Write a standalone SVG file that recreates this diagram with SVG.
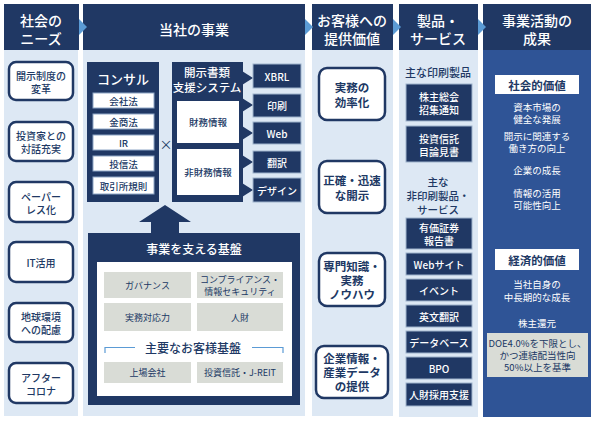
<svg xmlns="http://www.w3.org/2000/svg" width="594" height="424" viewBox="0 0 594 424">
<style>
text{font-family:"Noto Sans CJK JP","Noto Sans",sans-serif;text-anchor:middle;dominant-baseline:central}
.hd{fill:#203864}
.hdt{fill:#fff;font-size:14px;font-weight:500}
.body{fill:#dde8f4}
.need{fill:#fff;stroke:#203864;stroke-width:2.5}
.needt{fill:#203864;font-size:10px;font-weight:500}
.val{fill:#fff;stroke:#203864;stroke-width:2.5}
.valt{fill:#203864;font-size:11.5px;font-weight:700}
.nv{fill:#203864}
.wt{fill:#fff}
.sub{fill:#fff;stroke:#8ea6c6;stroke-width:1}
.subt{fill:#203864;font-size:9.5px;font-weight:500}
.out{fill:#203864;stroke:#9fb3cc;stroke-width:1}
.outt{fill:#fff;font-size:10px;font-weight:500}
.gray{fill:#d9dcd6}
.grayt{fill:#203864;font-size:9px}
.tri{fill:#5b9bd5}
.r5t{fill:#fff;font-size:9.5px}
.dk{fill:#203864}
</style>

<!-- column backgrounds -->
<g id="col-needs">
<rect class="body" x="4" y="50" width="74" height="366"/>
<rect class="hd" x="4" y="4" width="75" height="46"/>
<text class="hdt" x="41" y="20">社会の<tspan x="41" dy="18">ニーズ</tspan></text>
</g>
<g id="col-business">
<rect class="body" x="83" y="50" width="222" height="366"/>
<rect class="hd" x="83" y="4" width="222" height="46"/>
<text class="hdt" x="194" y="29">当社の事業</text>
</g>
<g id="col-value">
<rect class="body" x="312" y="50" width="81" height="366"/>
<rect class="hd" x="312" y="4" width="81" height="46"/>
<text class="hdt" x="352" y="20">お客様への<tspan x="352" dy="18">提供価値</tspan></text>
</g>
<g id="col-products">
<rect class="body" x="399" y="50" width="79" height="367"/>
<rect class="hd" x="399" y="4" width="79" height="46"/>
<text class="hdt" x="438" y="20">製品・<tspan x="438" dy="18">サービス</tspan></text>
</g>
<g id="col-results">
<rect fill="#2f5496" x="483" y="50" width="108" height="367"/>
<rect class="hd" x="483" y="4" width="108" height="46"/>
<text class="hdt" x="537" y="20">事業活動の<tspan x="537" dy="18">成果</tspan></text>
</g>

<!-- connectors -->
<g id="connectors">
<polygon class="tri" points="79,19 87,27 79,35"/>
<polygon class="tri" points="305,19 313,27 305,35"/>
<polygon class="tri" points="393,19 401,27 393,35"/>
<polygon class="tri" points="478,19 486,27 478,35"/>
<polygon class="nv" points="165,205 191,222 179,222 179,234 151,234 151,222 139,222"/>
</g>

<!-- needs -->
<g id="need1"><rect class="need" x="9" y="62" width="64" height="38" rx="7"/><text class="needt" x="41" y="75">開示制度の<tspan x="41" dy="13">変革</tspan></text></g>
<g id="need2"><rect class="need" x="9" y="122" width="64" height="39" rx="7"/><text class="needt" x="41" y="135">投資家との<tspan x="41" dy="13">対話充実</tspan></text></g>
<g id="need3"><rect class="need" x="9" y="182" width="64" height="40" rx="7"/><text class="needt" x="41" y="196">ペーパー<tspan x="41" dy="13">レス化</tspan></text></g>
<g id="need4"><rect class="need" x="9" y="242" width="64" height="40" rx="7"/><text class="needt" x="41" y="262">IT活用</text></g>
<g id="need5"><rect class="need" x="9" y="303" width="64" height="39" rx="7"/><text class="needt" x="41" y="316">地球環境<tspan x="41" dy="13">への配慮</tspan></text></g>
<g id="need6"><rect class="need" x="9" y="363" width="64" height="40" rx="7"/><text class="needt" x="41" y="377">アフター<tspan x="41" dy="13">コロナ</tspan></text></g>

<!-- consulting -->
<g id="consul">
<rect class="nv" x="87" y="62" width="72" height="140"/>
<text class="wt" x="123" y="78" font-size="13" font-weight="500">コンサル</text>
<rect class="sub" x="93" y="93" width="61" height="15"/><text class="subt" x="123.5" y="100.5">会社法</text>
<rect class="sub" x="93" y="114" width="61" height="15"/><text class="subt" x="123.5" y="121.5">金商法</text>
<rect class="sub" x="93" y="135" width="61" height="15"/><text class="subt" x="123.5" y="142.5">IR</text>
<rect class="sub" x="93" y="156" width="61" height="15"/><text class="subt" x="123.5" y="163.5">投信法</text>
<rect class="sub" x="93" y="177" width="61" height="17"/><text class="subt" x="123.5" y="185.5">取引所規則</text>
</g>
<g id="times"><text x="166" y="143" font-size="13" fill="#203864">×</text></g>

<!-- disclosure system -->
<g id="system">
<rect class="nv" x="172" y="62" width="71" height="140"/>
<polygon class="nv" points="242,71 253,78 242,85"/>
<polygon class="nv" points="242,98 253,105 242,112"/>
<polygon class="nv" points="242,126 253,133 242,140"/>
<polygon class="nv" points="242,155 253,162 242,169"/>
<polygon class="nv" points="242,183 253,190 242,197"/>
<text class="wt" x="207" y="72" font-size="11.5" font-weight="500">開示書類<tspan x="207" dy="15">支援システム</tspan></text>
<rect fill="#fff" x="177" y="101" width="62" height="42"/>
<text class="subt" x="208" y="122">財務情報</text>
<rect fill="#fff" x="177" y="149" width="62" height="46"/>
<text class="subt" x="208" y="172">非財務情報</text>
</g>
<g id="outputs">
<rect class="out" x="253" y="64" width="48" height="24"/><text class="outt" x="277" y="76" font-weight="700">XBRL</text>
<rect class="out" x="253" y="94" width="48" height="23"/><text class="outt" x="277" y="105.5">印刷</text>
<rect class="out" x="253" y="122" width="48" height="22"/><text class="outt" x="277" y="133" font-weight="700">Web</text>
<rect class="out" x="253" y="151" width="48" height="22"/><text class="outt" x="277" y="162">翻訳</text>
<rect class="out" x="253" y="178" width="48" height="24"/><text class="outt" x="277" y="190">デザイン</text>
</g>

<!-- foundation -->
<g id="foundation">
<rect class="nv" x="88" y="233" width="212" height="172"/>
<text class="wt" x="194" y="248" font-size="12" font-weight="500">事業を支える基盤</text>
<rect fill="#fff" x="97" y="262" width="195" height="134"/>
<rect class="gray" x="104" y="272" width="87" height="26"/><text class="grayt" x="147.5" y="285">ガバナンス</text>
<rect class="gray" x="197" y="272" width="86" height="26"/><text class="grayt" x="240" y="279">コンプライアンス・<tspan x="240" dy="12">情報セキュリティ</tspan></text>
<rect class="gray" x="104" y="303" width="87" height="28"/><text class="grayt" x="147.5" y="317">実務対応力</text>
<rect class="gray" x="197" y="303" width="86" height="28"/><text class="grayt" x="240" y="317">人財</text>
<path d="M105,353 V347.5 H135 M252,347.5 H283 V353" fill="none" stroke="#5b9bd5" stroke-width="1.2"/>
<text x="193" y="347" font-size="12" fill="#203864" font-weight="500">主要なお客様基盤</text>
<rect class="gray" x="104" y="362" width="87" height="21"/><text class="grayt" x="147.5" y="372.5">上場会社</text>
<rect class="gray" x="197" y="362" width="86" height="21"/><text class="grayt" x="240" y="372.5">投資信託・J-REIT</text>
</g>

<!-- values -->
<g id="val1"><rect class="val" x="319" y="68" width="66" height="52" rx="8"/><text class="valt" x="352" y="86.5">実務の<tspan x="352" dy="15">効率化</tspan></text></g>
<g id="val2"><rect class="val" x="319" y="161" width="66" height="52" rx="8"/><text class="valt" x="352" y="179.5">正確・迅速<tspan x="352" dy="15">な開示</tspan></text></g>
<g id="val3"><rect class="val" x="319" y="253" width="66" height="53" rx="8"/><text class="valt" x="352" y="265.5">専門知識・<tspan x="352" dy="14">実務</tspan><tspan x="352" dy="14">ノウハウ</tspan></text></g>
<g id="val4"><rect class="val" x="316" y="346" width="72" height="52" rx="8"/><text class="valt" x="352" y="358">企業情報・<tspan x="352" dy="14">産業データ</tspan><tspan x="352" dy="14">の提供</tspan></text></g>

<!-- products -->
<g id="products">
<text class="dk" x="438" y="72" font-size="11" font-weight="500">主な印刷製品</text>
<rect class="out" x="406" y="84" width="66" height="37"/><text class="outt" x="439" y="96">株主総会<tspan x="439" dy="13">招集通知</tspan></text>
<rect class="out" x="406" y="126" width="66" height="36"/><text class="outt" x="439" y="138">投資信託<tspan x="439" dy="13">目論見書</tspan></text>
<text class="dk" x="438" y="181" font-size="10.5" font-weight="500">主な<tspan x="438" dy="14">非印刷製品・</tspan><tspan x="438" dy="14">サービス</tspan></text>
<rect class="out" x="406" y="218" width="66" height="31"/><text class="outt" x="439" y="227">有価証券<tspan x="439" dy="13">報告書</tspan></text>
<rect class="out" x="406" y="253" width="66" height="22"/><text class="outt" x="439" y="264">Webサイト</text>
<rect class="out" x="406" y="279" width="66" height="22"/><text class="outt" x="439" y="290">イベント</text>
<rect class="out" x="406" y="305" width="66" height="22"/><text class="outt" x="439" y="316">英文翻訳</text>
<rect class="out" x="406" y="331" width="66" height="22"/><text class="outt" x="439" y="342">データベース</text>
<rect class="out" x="406" y="357" width="66" height="22"/><text class="outt" x="439" y="368">BPO</text>
<rect class="out" x="406" y="383" width="66" height="23"/><text class="outt" x="439" y="394.5">人財採用支援</text>
</g>

<!-- results -->
<g id="results">
<rect fill="#fff" x="495" y="75" width="84" height="19"/>
<text class="dk" x="537" y="84.5" font-size="11.5" font-weight="700">社会的価値</text>
<text class="r5t" x="537" y="107">資本市場の<tspan x="537" dy="12">健全な発展</tspan></text>
<text class="r5t" x="537" y="136">開示に関連する<tspan x="537" dy="12">働き方の向上</tspan></text>
<text class="r5t" x="537" y="170">企業の成長</text>
<text class="r5t" x="537" y="193">情報の活用<tspan x="537" dy="12">可能性向上</tspan></text>
<rect fill="#fff" x="495" y="249" width="84" height="21"/>
<text class="dk" x="537" y="259.5" font-size="11.5" font-weight="700">経済的価値</text>
<text class="r5t" x="537" y="284">当社自身の<tspan x="537" dy="13">中長期的な成長</tspan></text>
<text class="r5t" x="537" y="323">株主還元</text>
<rect fill="#d9dcd6" x="487" y="333" width="101" height="44"/>
<text class="dk" x="537.5" y="343" font-size="9.5">DOE4.0%を下限とし、<tspan x="537.5" dy="12">かつ連結配当性向</tspan><tspan x="537.5" dy="12">50%以上を基準</tspan></text>
</g>
</svg>
